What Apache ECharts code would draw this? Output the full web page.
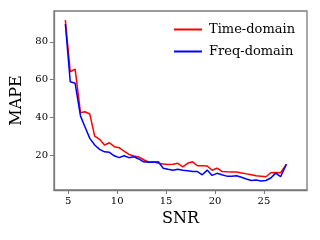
<!DOCTYPE html>
<html>
<head>
<meta charset="utf-8">
<script src="https://cdn.jsdelivr.net/npm/echarts@6/dist/echarts.min.js"></script>
<style>html,body{margin:0;padding:0;background:#fff}#c{width:320px;height:240px}</style>
</head>
<body>
<div id="c"></div>
<script>
var snr = [4.7, 5.2, 5.7, 6.25, 6.7, 7.2, 7.7, 8.2, 8.7, 9.2, 9.7, 10.2, 10.7, 11.2, 11.7, 12.2, 12.7, 13.2, 13.7, 14.2, 14.7, 15.2, 15.7, 16.2, 16.7, 17.2, 17.7, 18.2, 18.7, 19.2, 19.7, 20.2, 20.7, 21.2, 21.7, 22.2, 22.7, 23.2, 23.7, 24.2, 24.7, 25.2, 25.7, 26.2, 26.7, 27.3];
var timeDomain = [91.5, 64.1, 65.5, 42.4, 42.9, 41.7, 30, 28.3, 25.3, 26.5, 24.4, 23.9, 22, 20.3, 19.5, 19.0, 17.5, 16.3, 16.4, 15.6, 15.2, 15.0, 15.1, 15.6, 13.7, 15.6, 16.4, 14.3, 14.3, 14.2, 11.9, 13.0, 11.3, 11.1, 11.0, 11.0, 10.5, 10.0, 9.5, 9.0, 8.8, 8.5, 10.6, 10.7, 10.6, 15.1];
var freqDomain = [89.4, 58.8, 58.0, 40.6, 35, 28.8, 25.3, 23, 21.7, 21.4, 19.6, 18.6, 19.6, 18.6, 19.1, 17.9, 16.4, 16.1, 16.1, 16.4, 13.0, 12.4, 11.9, 12.4, 11.9, 11.7, 11.3, 11.2, 9.5, 12.0, 9.2, 10.3, 9.5, 8.8, 8.8, 9.0, 8.2, 7.3, 6.5, 6.7, 6.2, 6.5, 7.8, 10.4, 8.5, 15.1];
var xTicks = [5, 10, 15, 20, 25];
var yTicks = [20, 40, 60, 80];
var seriesNames = ['Time-domain', 'Freq-domain'];

function pairs(xs, ys) { return xs.map(function (x, i) { return [x, ys[i]]; }); }

var font = 'DejaVu Serif';
var spine = '#7a7a7a';
var chart = echarts.init(document.getElementById('c'), null, { renderer: 'canvas' });
chart.setOption({
  animation: false,
  backgroundColor: '#fff',
  textStyle: { fontFamily: font },
  grid: { left: 54, right: 13, top: 11, bottom: 50, show: true, borderColor: spine, borderWidth: 1.3, backgroundColor: 'transparent' },
  legend: {
    orient: 'vertical', left: 169, top: 18, itemGap: 9,
    itemWidth: 28, itemHeight: 2, icon: 'rect',
    textStyle: { fontFamily: font, fontSize: 13, color: '#000', padding: [0, 0, 0, 2] },
    data: seriesNames
  },
  xAxis: {
    type: 'value', min: 3.54, max: 29.4,
    name: 'SNR', nameLocation: 'middle', nameGap: 21,
    nameTextStyle: { fontFamily: font, fontSize: 16, color: '#000' },
    axisLine: { show: true, lineStyle: { color: spine, width: 1.3 } },
    axisTick: { show: true, length: 4, lineStyle: { color: spine }, customValues: xTicks },
    axisLabel: { fontFamily: font, fontSize: 10, color: '#000', margin: 6, customValues: xTicks },
    splitLine: { show: false }
  },
  yAxis: {
    type: 'value', min: 1.46, max: 96.3,
    name: 'MAPE', nameLocation: 'middle', nameGap: 25,
    nameTextStyle: { fontFamily: font, fontSize: 16, color: '#000' },
    axisLine: { show: true, lineStyle: { color: spine, width: 1.3 } },
    axisTick: { show: true, length: 4, lineStyle: { color: spine }, customValues: yTicks },
    axisLabel: { fontFamily: font, fontSize: 10, color: '#000', margin: 6, customValues: yTicks },
    splitLine: { show: false }
  },
  series: [
    { name: seriesNames[0], type: 'line', data: pairs(snr, timeDomain), symbol: 'none', color: '#ff0000', lineStyle: { color: '#ff0000', width: 1.5 } },
    { name: seriesNames[1], type: 'line', data: pairs(snr, freqDomain), symbol: 'none', color: '#0000ff', lineStyle: { color: '#0000ff', width: 1.5 } }
  ]
});
</script>
</body>
</html>
